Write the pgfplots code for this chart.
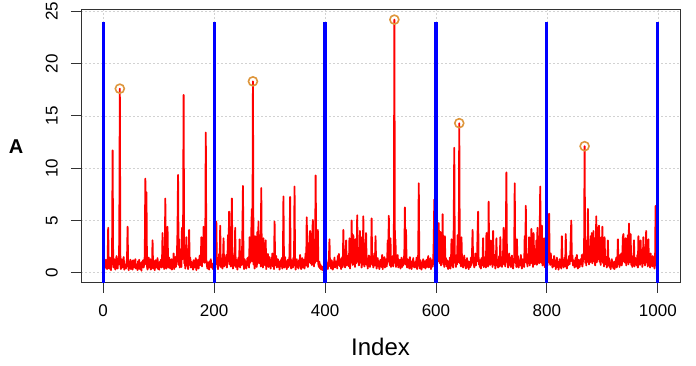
\documentclass[border=0pt]{standalone}
\usepackage{fontspec}
\setmainfont{Liberation Sans}
\usepackage{pgfplots}
\usepackage{pgfplotstable}
\pgfplotsset{compat=1.18}
\definecolor{circ}{RGB}{222,150,60}
\definecolor{gridc}{RGB}{210,210,210}
\definecolor{frame}{RGB}{50,50,50}

\pgfplotstableread[row sep=\\, header=false]{
0.7\\ 0.3\\ 1.05\\ 0.5\\ 1.25\\ 0.8\\ 0.35\\ 0.95\\ 4.3\\ 0.6\\ 0.4\\ 1.45\\ 0.75\\ 0.25\\ 1.1\\ 1.7\\ 11.7\\ 0.9\\ 0.5\\ 1.3\\
0.55\\ 0.3\\ 1.0\\ 1.6\\ 0.7\\ 0.4\\ 1.2\\ 0.8\\ 3.1\\ 17.6\\ 0.75\\ 0.35\\ 1.3\\ 0.95\\ 0.5\\ 1.1\\ 1.5\\ 0.3\\ 0.8\\ 0.6\\
0.4\\ 0.95\\ 1.4\\ 4.4\\ 0.7\\ 0.25\\ 1.05\\ 0.55\\ 1.25\\ 0.35\\ 0.9\\ 1.1\\ 0.3\\ 1.2\\ 0.75\\ 0.5\\ 1.0\\ 1.3\\ 0.4\\ 0.8\\
0.6\\ 0.25\\ 1.1\\ 0.75\\ 1.25\\ 0.35\\ 0.95\\ 0.55\\ 0.2\\ 1.05\\ 0.7\\ 1.2\\ 0.5\\ 0.9\\ 1.65\\ 9.0\\ 0.8\\ 7.7\\ 0.6\\ 0.3\\
1.0\\ 1.45\\ 0.5\\ 0.75\\ 1.3\\ 0.3\\ 0.9\\ 0.55\\ 3.1\\ 0.4\\ 1.1\\ 0.7\\ 0.25\\ 1.2\\ 0.8\\ 0.5\\ 0.95\\ 1.4\\ 0.35\\ 0.6\\
0.3\\ 1.05\\ 0.7\\ 1.25\\ 0.5\\ 0.8\\ 3.8\\ 0.55\\ 1.6\\ 0.35\\ 0.9\\ 7.1\\ 0.75\\ 0.4\\ 1.2\\ 4.4\\ 0.95\\ 0.5\\ 1.45\\ 0.7\\
0.4\\ 0.9\\ 1.3\\ 0.3\\ 1.1\\ 0.6\\ 1.85\\ 0.35\\ 0.8\\ 1.5\\ 0.55\\ 1.05\\ 1.8\\ 4.0\\ 9.35\\ 0.75\\ 3.2\\ 0.5\\ 1.25\\ 0.95\\
0.55\\ 4.3\\ 1.3\\ 3.1\\ 17.0\\ 0.9\\ 1.6\\ 0.4\\ 1.1\\ 3.4\\ 0.7\\ 1.2\\ 0.35\\ 0.95\\ 4.1\\ 0.75\\ 1.45\\ 0.5\\ 1.05\\ 0.6\\
0.8\\ 0.3\\ 1.2\\ 0.7\\ 0.5\\ 1.0\\ 1.4\\ 0.25\\ 0.9\\ 0.55\\ 1.25\\ 0.4\\ 0.95\\ 1.65\\ 0.75\\ 1.1\\ 3.4\\ 0.6\\ 1.5\\ 1.0\\
4.4\\ 1.4\\ 0.95\\ 1.85\\ 13.4\\ 1.2\\ 0.7\\ 0.4\\ 1.0\\ 0.8\\ 0.3\\ 1.1\\ 0.6\\ 1.3\\ 0.5\\ 0.9\\ 0.75\\ 0.35\\ 0.55\\ 0.95\\
1.05\\ 0.5\\ 1.6\\ 4.9\\ 0.8\\ 1.25\\ 0.35\\ 0.95\\ 1.8\\ 0.7\\ 4.5\\ 0.55\\ 1.4\\ 1.0\\ 0.4\\ 1.2\\ 3.3\\ 0.6\\ 0.9\\ 1.45\\
0.75\\ 1.7\\ 0.5\\ 1.1\\ 3.6\\ 1.3\\ 5.85\\ 0.8\\ 1.5\\ 0.6\\ 3.9\\ 7.1\\ 1.2\\ 0.4\\ 0.95\\ 1.65\\ 0.7\\ 4.3\\ 0.55\\ 1.25\\
0.9\\ 0.3\\ 1.05\\ 1.45\\ 0.6\\ 3.2\\ 0.5\\ 1.0\\ 1.6\\ 0.75\\ 4.0\\ 8.3\\ 0.95\\ 0.35\\ 1.3\\ 0.55\\ 1.1\\ 0.4\\ 0.8\\ 1.4\\
0.7\\ 1.5\\ 0.5\\ 3.4\\ 0.95\\ 1.2\\ 3.8\\ 6.1\\ 1.1\\ 18.3\\ 0.8\\ 1.7\\ 0.4\\ 3.5\\ 1.0\\ 1.4\\ 0.55\\ 3.9\\ 1.6\\ 4.9\\
0.9\\ 1.3\\ 3.6\\ 0.6\\ 8.1\\ 1.05\\ 1.65\\ 0.5\\ 3.3\\ 0.95\\ 1.45\\ 0.7\\ 3.1\\ 0.35\\ 1.2\\ 0.8\\ 1.8\\ 0.55\\ 1.0\\ 1.5\\
0.75\\ 0.4\\ 1.25\\ 0.95\\ 1.85\\ 0.6\\ 1.45\\ 0.35\\ 4.9\\ 1.1\\ 0.7\\ 1.6\\ 0.5\\ 0.9\\ 1.3\\ 0.55\\ 1.05\\ 0.3\\ 0.8\\ 1.2\\
0.6\\ 1.4\\ 0.4\\ 1.0\\ 7.3\\ 0.8\\ 0.5\\ 1.5\\ 0.7\\ 1.1\\ 0.35\\ 0.9\\ 1.25\\ 0.55\\ 0.95\\ 1.7\\ 7.25\\ 0.75\\ 0.4\\ 1.2\\
0.9\\ 0.5\\ 1.45\\ 0.7\\ 8.25\\ 1.05\\ 0.3\\ 0.8\\ 1.3\\ 0.55\\ 1.0\\ 0.4\\ 1.2\\ 0.75\\ 1.7\\ 0.6\\ 0.35\\ 0.95\\ 1.4\\ 0.5\\
0.8\\ 1.25\\ 0.4\\ 1.1\\ 1.85\\ 0.7\\ 5.3\\ 1.6\\ 0.55\\ 1.3\\ 1.0\\ 3.4\\ 4.0\\ 0.9\\ 1.8\\ 0.75\\ 3.7\\ 5.05\\ 1.2\\ 0.6\\
1.45\\ 0.95\\ 9.3\\ 3.2\\ 1.1\\ 1.7\\ 4.1\\ 0.8\\ 0.55\\ 1.05\\ 0.4\\ 0.75\\ 0.3\\ 0.6\\ 0.5\\ 0.25\\ 0.4\\ 0.7\\ 0.2\\ 0.35\\
0.3\\ 0.7\\ 0.5\\ 0.9\\ 0.35\\ 1.05\\ 1.3\\ 3.2\\ 0.6\\ 0.95\\ 0.4\\ 1.2\\ 0.75\\ 0.3\\ 1.0\\ 0.55\\ 1.45\\ 0.5\\ 0.8\\ 0.7\\
1.1\\ 0.4\\ 1.6\\ 0.75\\ 1.8\\ 0.95\\ 0.6\\ 1.3\\ 0.35\\ 1.05\\ 1.5\\ 0.55\\ 4.1\\ 0.9\\ 1.4\\ 0.5\\ 1.0\\ 3.1\\ 0.7\\ 1.2\\
0.8\\ 1.65\\ 0.6\\ 3.3\\ 0.4\\ 1.3\\ 0.95\\ 5.0\\ 1.45\\ 0.75\\ 3.6\\ 1.1\\ 1.7\\ 0.55\\ 3.2\\ 0.9\\ 1.6\\ 5.5\\ 1.05\\ 1.85\\
0.7\\ 1.4\\ 4.0\\ 0.95\\ 3.4\\ 0.5\\ 1.5\\ 0.8\\ 5.4\\ 1.25\\ 0.6\\ 1.8\\ 1.0\\ 3.8\\ 0.75\\ 1.3\\ 0.4\\ 1.1\\ 1.65\\ 0.9\\
0.55\\ 1.45\\ 1.05\\ 5.2\\ 0.75\\ 1.6\\ 0.5\\ 1.0\\ 1.85\\ 0.7\\ 3.5\\ 1.2\\ 0.4\\ 0.9\\ 1.4\\ 0.6\\ 1.1\\ 0.35\\ 0.8\\ 1.25\\
0.95\\ 0.55\\ 1.7\\ 0.35\\ 1.1\\ 0.75\\ 1.5\\ 0.5\\ 0.9\\ 1.3\\ 0.6\\ 1.0\\ 3.1\\ 1.45\\ 5.45\\ 1.05\\ 0.7\\ 3.3\\ 0.55\\ 1.2\\
0.8\\ 1.6\\ 0.6\\ 1.1\\ 24.2\\ 0.95\\ 3.2\\ 0.55\\ 1.4\\ 0.75\\ 1.7\\ 0.5\\ 1.0\\ 0.7\\ 1.25\\ 0.4\\ 0.9\\ 1.45\\ 0.55\\ 1.05\\
0.7\\ 1.2\\ 1.85\\ 6.25\\ 0.8\\ 4.1\\ 1.0\\ 0.5\\ 1.3\\ 0.75\\ 1.05\\ 0.4\\ 1.5\\ 0.6\\ 0.95\\ 0.35\\ 1.1\\ 0.7\\ 1.4\\ 0.55\\
0.9\\ 0.5\\ 1.05\\ 0.7\\ 1.45\\ 0.35\\ 0.95\\ 1.8\\ 8.55\\ 0.75\\ 0.4\\ 1.2\\ 0.6\\ 0.3\\ 1.0\\ 0.8\\ 1.3\\ 0.5\\ 0.75\\ 1.1\\
0.4\\ 0.95\\ 1.25\\ 0.55\\ 0.8\\ 1.6\\ 0.5\\ 1.05\\ 0.7\\ 1.4\\ 0.35\\ 0.9\\ 1.2\\ 0.6\\ 1.0\\ 3.1\\ 7.0\\ 1.45\\ 0.75\\ 1.1\\
1.65\\ 4.6\\ 1.05\\ 3.3\\ 4.75\\ 1.3\\ 0.9\\ 3.9\\ 0.7\\ 1.6\\ 1.1\\ 5.6\\ 0.8\\ 1.7\\ 0.55\\ 3.5\\ 1.0\\ 1.4\\ 0.6\\ 1.2\\
0.75\\ 0.35\\ 1.1\\ 0.6\\ 1.45\\ 0.4\\ 0.9\\ 3.2\\ 0.7\\ 1.2\\ 0.5\\ 4.5\\ 11.95\\ 0.95\\ 1.4\\ 0.55\\ 1.7\\ 0.8\\ 3.6\\ 1.0\\
1.3\\ 14.3\\ 0.9\\ 1.8\\ 0.6\\ 3.4\\ 1.05\\ 1.5\\ 0.5\\ 0.8\\ 1.65\\ 0.7\\ 1.2\\ 0.4\\ 0.95\\ 1.4\\ 0.55\\ 1.1\\ 0.35\\ 0.75\\
1.05\\ 0.55\\ 1.45\\ 0.75\\ 1.8\\ 4.1\\ 0.95\\ 1.3\\ 0.5\\ 0.9\\ 1.85\\ 0.7\\ 1.6\\ 1.1\\ 3.7\\ 5.85\\ 0.8\\ 1.25\\ 0.55\\ 1.0\\
0.4\\ 1.4\\ 0.7\\ 1.05\\ 3.3\\ 0.55\\ 1.5\\ 0.9\\ 1.2\\ 0.5\\ 3.8\\ 0.8\\ 1.65\\ 0.6\\ 6.8\\ 0.95\\ 1.3\\ 0.75\\ 3.1\\ 1.0\\
1.45\\ 0.55\\ 4.0\\ 1.1\\ 0.75\\ 1.7\\ 0.4\\ 0.95\\ 3.3\\ 0.7\\ 1.25\\ 0.5\\ 1.0\\ 1.6\\ 0.6\\ 3.4\\ 0.9\\ 1.2\\ 0.55\\ 1.05\\
1.8\\ 4.3\\ 0.8\\ 1.5\\ 0.6\\ 3.6\\ 9.6\\ 1.05\\ 1.3\\ 0.5\\ 0.95\\ 1.85\\ 0.75\\ 1.45\\ 0.55\\ 1.1\\ 1.65\\ 0.7\\ 0.4\\ 0.9\\
1.4\\ 8.55\\ 1.0\\ 1.25\\ 0.55\\ 3.2\\ 0.8\\ 1.6\\ 0.5\\ 1.05\\ 1.2\\ 0.7\\ 1.7\\ 0.9\\ 0.4\\ 1.3\\ 0.75\\ 1.1\\ 0.55\\ 3.5\\
1.2\\ 6.4\\ 0.95\\ 1.45\\ 0.6\\ 1.8\\ 1.05\\ 3.4\\ 0.7\\ 1.3\\ 0.9\\ 4.2\\ 1.1\\ 1.65\\ 0.55\\ 3.8\\ 1.4\\ 0.8\\ 1.6\\ 1.0\\
3.1\\ 0.75\\ 4.3\\ 1.2\\ 1.6\\ 0.9\\ 3.7\\ 8.25\\ 1.45\\ 0.95\\ 4.5\\ 0.7\\ 1.8\\ 1.05\\ 3.3\\ 0.55\\ 1.3\\ 0.8\\ 1.65\\ 1.1\\
0.7\\ 1.5\\ 1.0\\ 5.65\\ 1.25\\ 0.75\\ 1.85\\ 0.95\\ 1.3\\ 0.5\\ 1.05\\ 0.6\\ 1.6\\ 0.8\\ 1.2\\ 0.35\\ 0.9\\ 1.45\\ 0.55\\ 1.05\\
0.3\\ 0.8\\ 1.3\\ 0.55\\ 1.0\\ 0.4\\ 3.5\\ 0.75\\ 1.25\\ 0.5\\ 0.95\\ 1.45\\ 0.6\\ 3.7\\ 0.9\\ 0.4\\ 1.2\\ 0.7\\ 1.05\\ 1.6\\
0.8\\ 1.4\\ 3.3\\ 5.0\\ 1.1\\ 1.65\\ 0.7\\ 1.2\\ 0.9\\ 0.5\\ 1.05\\ 1.45\\ 0.6\\ 1.7\\ 0.95\\ 0.4\\ 1.25\\ 0.75\\ 0.55\\ 1.0\\
1.3\\ 0.8\\ 1.7\\ 0.6\\ 1.1\\ 1.85\\ 1.45\\ 12.1\\ 0.95\\ 1.5\\ 0.7\\ 3.1\\ 1.05\\ 6.1\\ 1.4\\ 0.8\\ 1.8\\ 1.0\\ 3.5\\ 1.25\\
3.8\\ 0.9\\ 1.6\\ 4.0\\ 1.1\\ 3.3\\ 0.7\\ 1.45\\ 5.4\\ 1.0\\ 1.85\\ 1.3\\ 4.3\\ 4.5\\ 1.05\\ 1.8\\ 0.75\\ 3.4\\ 1.25\\ 4.4\\
0.95\\ 1.7\\ 0.6\\ 3.4\\ 1.2\\ 0.8\\ 1.5\\ 0.5\\ 1.1\\ 3.1\\ 0.7\\ 1.4\\ 0.55\\ 1.0\\ 0.35\\ 0.9\\ 1.3\\ 0.6\\ 1.05\\ 0.4\\
0.75\\ 0.35\\ 1.1\\ 0.6\\ 1.45\\ 0.5\\ 0.95\\ 3.2\\ 0.8\\ 1.25\\ 0.55\\ 1.7\\ 0.9\\ 1.85\\ 0.7\\ 1.5\\ 3.4\\ 3.7\\ 1.05\\ 1.3\\
0.95\\ 3.3\\ 0.7\\ 1.8\\ 1.2\\ 3.6\\ 0.8\\ 4.7\\ 1.3\\ 1.0\\ 3.7\\ 0.75\\ 1.6\\ 0.55\\ 1.4\\ 1.05\\ 3.1\\ 0.6\\ 1.45\\ 0.9\\
1.2\\ 0.7\\ 1.7\\ 0.5\\ 3.5\\ 0.95\\ 1.4\\ 0.75\\ 3.1\\ 1.05\\ 1.6\\ 0.55\\ 1.25\\ 3.4\\ 0.9\\ 1.8\\ 0.7\\ 1.45\\ 4.0\\ 1.0\\
1.5\\ 0.6\\ 3.2\\ 0.95\\ 1.3\\ 0.5\\ 1.85\\ 0.8\\ 1.1\\ 0.6\\ 1.6\\ 0.75\\ 1.0\\ 0.4\\ 0.9\\ 6.4\\ 0.7\\ 1.2\\ 0.75\\ 0.95\\
}\datatable

\begin{document}
\begin{tikzpicture}[x=1pt,y=1pt]
\useasboundingbox (-81,-83.3) rectangle (615,282.7);
\begin{axis}[
  name=ax, at={(0,0)}, anchor=south west,
  scale only axis, width=599pt, height=273pt,
  xmin=-40, xmax=1040, ymin=-0.95, ymax=25.15,
  xtick={0,200,...,1000}, ytick={0,5,...,25},
  axis line style={frame, line width=0.9pt},
  tick align=outside, tick pos=left, major tick length=10pt,
  tick style={frame, line width=0.9pt},
  grid=major, grid style={gridc, dash pattern=on 2pt off 2pt, line width=0.6pt},
  /pgf/number format/assume math mode=true,
  /pgf/number format/1000 sep={},
  tick label style={font=\fontsize{17}{17}\selectfont, inner sep=0pt},
  xticklabel shift=12pt,
  yticklabel style={rotate=90, anchor=south},
  yticklabel shift=13pt,
  every axis x label/.style={at={(axis description cs:0.5,0)}, anchor=center, yshift=-64.5pt},
  every axis y label/.style={at={(axis description cs:0,0.5)}, anchor=center, xshift=-65pt},
  xlabel={\fontsize{24}{24}\selectfont Index},
  ylabel={\fontsize{20}{20}\selectfont\bfseries A},
]
\addplot[red, line width=1.8pt, line join=round] table[x expr=\coordindex+1, y index=0] {\datatable};
\addplot[blue, line width=3.2pt] coordinates {(0,-2) (0,24)};
\addplot[blue, line width=3.2pt] coordinates {(200,-2) (200,24)};
\addplot[blue, line width=3.2pt] coordinates {(400,-2) (400,24)};
\addplot[blue, line width=3.2pt] coordinates {(600,-2) (600,24)};
\addplot[blue, line width=3.2pt] coordinates {(800,-2) (800,24)};
\addplot[blue, line width=3.2pt] coordinates {(1000,-2) (1000,24)};
\addplot[only marks, mark=o, mark size=4.5pt, mark options={draw=circ, line width=1.6pt}] coordinates {(30,17.6) (270,18.3) (525,24.2) (642,14.3) (868,12.1)};
\end{axis}
\end{tikzpicture}
\end{document}
